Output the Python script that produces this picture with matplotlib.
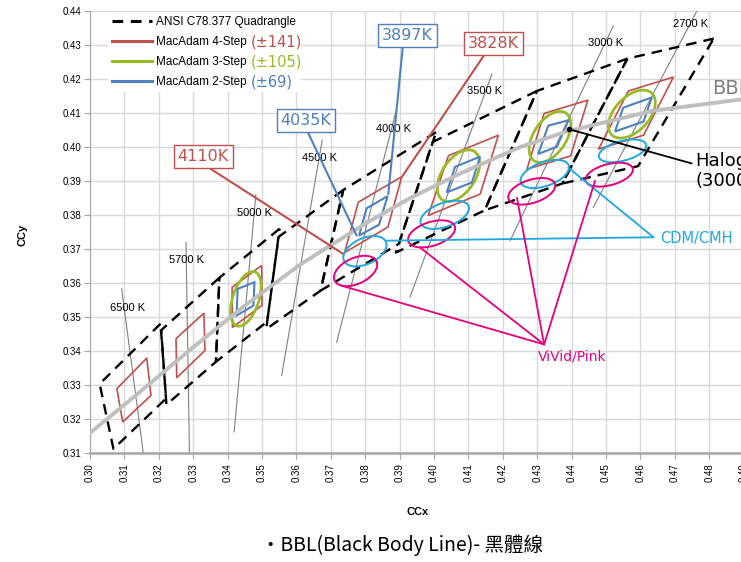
import matplotlib.pyplot as plt
import numpy as np
from matplotlib.lines import Line2D
from matplotlib.patches import Ellipse, Polygon

plt.rcParams['font.family'] = ['Liberation Sans', 'DejaVu Sans']

RED = '#c0504d'
GREEN = '#9bbb26'
BLUE = '#4f81bd'
CYAN = '#1ea7e1'
PINK = '#e6007e'

# black body line
bbl_x = [0.300, 0.3135, 0.3300, 0.3451, 0.3611, 0.3805, 0.3930, 0.4075, 0.4250, 0.4386, 0.4637, 0.4892, 0.505]
bbl_y = [0.3160, 0.3272, 0.3412, 0.3535, 0.3655, 0.3778, 0.3850, 0.3922, 0.4000, 0.4046, 0.4107, 0.4140, 0.4152]

# ANSI C78.377 quadrangle corners
ansi_cct = ['2700', '3000', '3500', '4000', '4500', '5000', '5700', '6500']
ansi_x = [[0.4813, 0.4562, 0.4373, 0.4593],
          [0.4562, 0.4299, 0.4147, 0.4373],
          [0.4299, 0.3996, 0.3889, 0.4147],
          [0.4006, 0.3736, 0.3670, 0.3898],
          [0.3736, 0.3548, 0.3512, 0.3670],
          [0.3551, 0.3376, 0.3366, 0.3515],
          [0.3376, 0.3207, 0.3222, 0.3366],
          [0.3205, 0.3028, 0.3068, 0.3221]]
ansi_y = [[0.4319, 0.4260, 0.3893, 0.3944],
          [0.4260, 0.4165, 0.3814, 0.3893],
          [0.4165, 0.4015, 0.3690, 0.3814],
          [0.4044, 0.3874, 0.3578, 0.3716],
          [0.3874, 0.3736, 0.3465, 0.3578],
          [0.3760, 0.3616, 0.3369, 0.3487],
          [0.3616, 0.3462, 0.3243, 0.3369],
          [0.3481, 0.3304, 0.3113, 0.3261]]

# isotherm segments and their labels
iso_text = ['6500 K', '5700 K', '5000 K', '4500 K', '4000 K', '3500 K', '3000 K', '2700 K']
iso_x = [(0.3092, 0.3155), (0.3279, 0.3289), (0.3482, 0.3419), (0.3675, 0.3557),
         (0.3890, 0.3717), (0.4168, 0.3930), (0.4521, 0.4221), (0.4764, 0.4463)]
iso_y = [(0.3583, 0.3100), (0.3720, 0.3100), (0.3860, 0.3163), (0.4021, 0.3329),
         (0.4107, 0.3427), (0.4214, 0.3559), (0.4356, 0.3725), (0.4400, 0.3823)]
iso_lx = [0.3108, 0.3279, 0.3477, 0.3666, 0.3881, 0.4148, 0.4500, 0.4747]
iso_ly = [0.3528, 0.3669, 0.3807, 0.3969, 0.4054, 0.4165, 0.4306, 0.4362]

# MacAdam 4-step (drawn as quadrilaterals)
red4_x = [[0.3078, 0.3165, 0.3177, 0.3095],
          [0.3250, 0.3331, 0.3334, 0.3252],
          [0.3413, 0.3499, 0.3500, 0.3414],
          [0.3780, 0.3906, 0.3866, 0.3740],
          [0.4042, 0.4187, 0.4134, 0.3983],
          [0.4320, 0.4447, 0.4397, 0.4270],
          [0.4565, 0.4696, 0.4609, 0.4478]]
red4_y = [[0.3290, 0.3380, 0.3270, 0.3192],
          [0.3437, 0.3512, 0.3402, 0.3322],
          [0.3588, 0.3652, 0.3535, 0.3470],
          [0.3838, 0.3913, 0.3765, 0.3690],
          [0.3975, 0.4035, 0.3862, 0.3799],
          [0.4099, 0.4138, 0.3974, 0.3935],
          [0.4165, 0.4206, 0.4035, 0.3994]]

# MacAdam 3-step ellipses: centre, major, minor, angle
green3_cx = [0.3453, 0.4071, 0.4337, 0.4575]
green3_cy = [0.3554, 0.3916, 0.4030, 0.4097]
green3_w = [0.0167, 0.0170, 0.0168, 0.0169]
green3_h = [0.0076, 0.0097, 0.0095, 0.0100]
green3_ang = [72, 57, 57, 47]

# MacAdam 2-step (quadrilaterals)
blue2_x = [[0.3429, 0.3478, 0.3475, 0.3426],
           [0.3804, 0.3865, 0.3840, 0.3782],
           [0.4061, 0.4134, 0.4110, 0.4037],
           [0.4332, 0.4391, 0.4357, 0.4303],
           [0.4550, 0.4633, 0.4609, 0.4526]]
blue2_y = [[0.3583, 0.3603, 0.3534, 0.3505],
           [0.3820, 0.3856, 0.3772, 0.3740],
           [0.3942, 0.3972, 0.3896, 0.3867],
           [0.4063, 0.4079, 0.4001, 0.3980],
           [0.4116, 0.4146, 0.4075, 0.4046]]

# CDM/CMH and ViVid/Pink lamp regions
cdm_cx = [0.3799, 0.4031, 0.4322, 0.4548]
cdm_cy = [0.3694, 0.3801, 0.3921, 0.3989]
cdm_w = [0.0134, 0.0148, 0.0148, 0.0142]
cdm_h = [0.0076, 0.0070, 0.0070, 0.0058]
cdm_ang = [25, 20, 20, 15]

pink_cx = [0.3772, 0.3993, 0.4284, 0.4509]
pink_cy = [0.3636, 0.3745, 0.3870, 0.3919]
pink_w = [0.0134, 0.0142, 0.0142, 0.0142]
pink_h = [0.0076, 0.0070, 0.0068, 0.0062]
pink_ang = [25, 18, 18, 15]

fig = plt.figure(figsize=(7.41, 5.62), dpi=100)
ax = fig.add_axes([0.1215, 0.1934, 0.9285, 0.787])
ax.set_xlim(0.30, 0.50)
ax.set_ylim(0.31, 0.44)

ax.set_xticks(np.arange(0.30, 0.5001, 0.01))
ax.set_yticks(np.arange(0.31, 0.4401, 0.01))
ax.xaxis.set_major_formatter(plt.FormatStrFormatter('%.2f'))
ax.yaxis.set_major_formatter(plt.FormatStrFormatter('%.2f'))
ax.tick_params(axis='x', labelrotation=90, labelsize=7, length=4, color='#a6a6a6', pad=3)
ax.tick_params(axis='y', labelsize=7, length=4, color='#a6a6a6', pad=2)
ax.grid(True, color='#d9d9d9', lw=1)
ax.set_axisbelow(True)
for s in ['top', 'right']:
    ax.spines[s].set_visible(False)
ax.spines['left'].set_color('#a6a6a6')
ax.spines['bottom'].set_color('#a6a6a6')
ax.spines['bottom'].set_linewidth(1.8)

# isotherms
for (x0, x1), (y0, y1), t, lx, ly in zip(iso_x, iso_y, iso_text, iso_lx, iso_ly):
    ax.plot([x0, x1], [y0, y1], color='#808080', lw=0.8, zorder=2)
    ax.text(lx, ly, t, fontsize=8, ha='center', va='center', zorder=2)

# ANSI quadrangles
for qx, qy in zip(ansi_x, ansi_y):
    ax.plot(qx + qx[:1], qy + qy[:1], color='black', lw=1.7,
            dashes=(4.5, 3), zorder=3)

ax.plot(bbl_x, bbl_y, color='#bfbfbf', lw=2.8, zorder=4, solid_capstyle='round')

for qx, qy in zip(red4_x, red4_y):
    ax.add_patch(Polygon(np.column_stack([qx, qy]), closed=True, fill=False,
                         ec=RED, lw=1.2, zorder=3))
for cx, cy, w, h, a in zip(green3_cx, green3_cy, green3_w, green3_h, green3_ang):
    ax.add_patch(Ellipse((cx, cy), w, h, angle=a, fill=False, ec=GREEN, lw=2, zorder=3))
for qx, qy in zip(blue2_x, blue2_y):
    ax.add_patch(Polygon(np.column_stack([qx, qy]), closed=True, fill=False,
                         ec=BLUE, lw=1.5, zorder=3))
for cx, cy, w, h, a in zip(cdm_cx, cdm_cy, cdm_w, cdm_h, cdm_ang):
    ax.add_patch(Ellipse((cx, cy), w, h, angle=a, fill=False, ec=CYAN, lw=1.4, zorder=5))
for cx, cy, w, h, a in zip(pink_cx, pink_cy, pink_w, pink_h, pink_ang):
    ax.add_patch(Ellipse((cx, cy), w, h, angle=a, fill=False, ec=PINK, lw=1.4, zorder=5))

ax.text(0.4808, 0.4172, 'BBL', color='#808080', fontsize=14, ha='left', va='center',
        family='DejaVu Sans', clip_on=False)

# boxed CCT callouts
boxes = [('4110K', RED, (0.3329, 0.3972), (0.3736, 0.3686), 0.5),
         ('4035K', BLUE, (0.3628, 0.4077), (0.3775, 0.3740), 0.5),
         ('3897K', BLUE, (0.3922, 0.4327), (0.3867, 0.3862), 0.42),
         ('3828K', RED, (0.4172, 0.4305), (0.3907, 0.3913), 0.38)]
for txt, c, pos, tip, rx in boxes:
    ax.annotate(txt, xy=tip, xytext=pos, ha='center', va='center', color=c,
                fontsize=11.5, family='DejaVu Sans', zorder=7,
                bbox=dict(boxstyle='square,pad=0.25', fc='white', ec=c, lw=1),
                arrowprops=dict(arrowstyle='-', color=c, lw=1.5, relpos=(rx, 0),
                                shrinkA=0, shrinkB=0))

# lamp callouts
cdm_hub = (0.4638, 0.3735)
for tip in [(0.3863, 0.3725), (0.4390, 0.3940)]:
    ax.annotate('', xy=tip, xytext=cdm_hub, zorder=6,
                arrowprops=dict(arrowstyle='-', color=CYAN, lw=1.3, shrinkA=0, shrinkB=0))
ax.text(0.4657, 0.3731, 'CDM/CMH', color=CYAN, fontsize=10.5, ha='left', va='center',
        family='DejaVu Sans')

pink_hub = (0.4320, 0.3420)
for tip in [(0.3730, 0.3593), (0.3959, 0.3705), (0.4241, 0.3851), (0.4468, 0.3901)]:
    ax.annotate('', xy=tip, xytext=pink_hub, zorder=6,
                arrowprops=dict(arrowstyle='-', color=PINK, lw=1.3, shrinkA=0, shrinkB=0))
ax.text(0.4302, 0.3405, 'ViVid/Pink', color=PINK, fontsize=10, ha='left', va='top',
        family='DejaVu Sans')

ax.annotate('', xy=(0.4749, 0.3952), xytext=(0.4391, 0.4053), zorder=6,
            arrowprops=dict(arrowstyle='-', color='black', lw=1.3, shrinkA=0, shrinkB=0))
ax.plot([0.4391], [0.4053], 'o', color='black', ms=3, zorder=6)
ax.text(0.4759, 0.3985, 'Halogen\n(3000K)', fontsize=13, ha='left', va='top',
        family='DejaVu Sans', linespacing=1.1)

# legend
handles = [Line2D([], [], color='black', lw=2.2, dashes=(3.5, 2.5)),
           Line2D([], [], color=RED, lw=2.2),
           Line2D([], [], color=GREEN, lw=2.2),
           Line2D([], [], color=BLUE, lw=2.2)]
labels = ['ANSI C78.377 Quadrangle', 'MacAdam 4-Step', 'MacAdam 3-Step', 'MacAdam 2-Step']
leg = ax.legend(handles, labels, loc='upper left', bbox_to_anchor=(108 / 741, 1 - 12 / 562),
                bbox_transform=fig.transFigure, fontsize=8.5, frameon=True, framealpha=1,
                edgecolor='none', handlelength=3.4, handletextpad=0.3, labelspacing=0.68,
                borderaxespad=0, borderpad=0.35)
extras = [('(±141)', RED), ('(±105)', GREEN), ('(±69)', BLUE)]
for t, (s, c) in zip(leg.get_texts()[1:], extras):
    ax.annotate(s, xy=(1, 0.5), xycoords=t, xytext=(3, 0), textcoords='offset points',
                va='center', ha='left', color=c, fontsize=10.5, family='DejaVu Sans', zorder=10)

fig.text(22 / 741, 1 - 235 / 562, 'CCy', rotation=90, fontsize=8, weight='bold',
         ha='center', va='center')
fig.text(418 / 741, 1 - 512 / 562, 'CCx', fontsize=8, weight='bold', ha='center', va='center')
fig.text(402 / 741, 1 - 545 / 562, '・BBL(Black Body Line)- 黑體線', fontsize=14,
         ha='center', va='center', family=['Noto Sans CJK TC', 'DejaVu Sans'])

fig.savefig('out.png', dpi=100)
